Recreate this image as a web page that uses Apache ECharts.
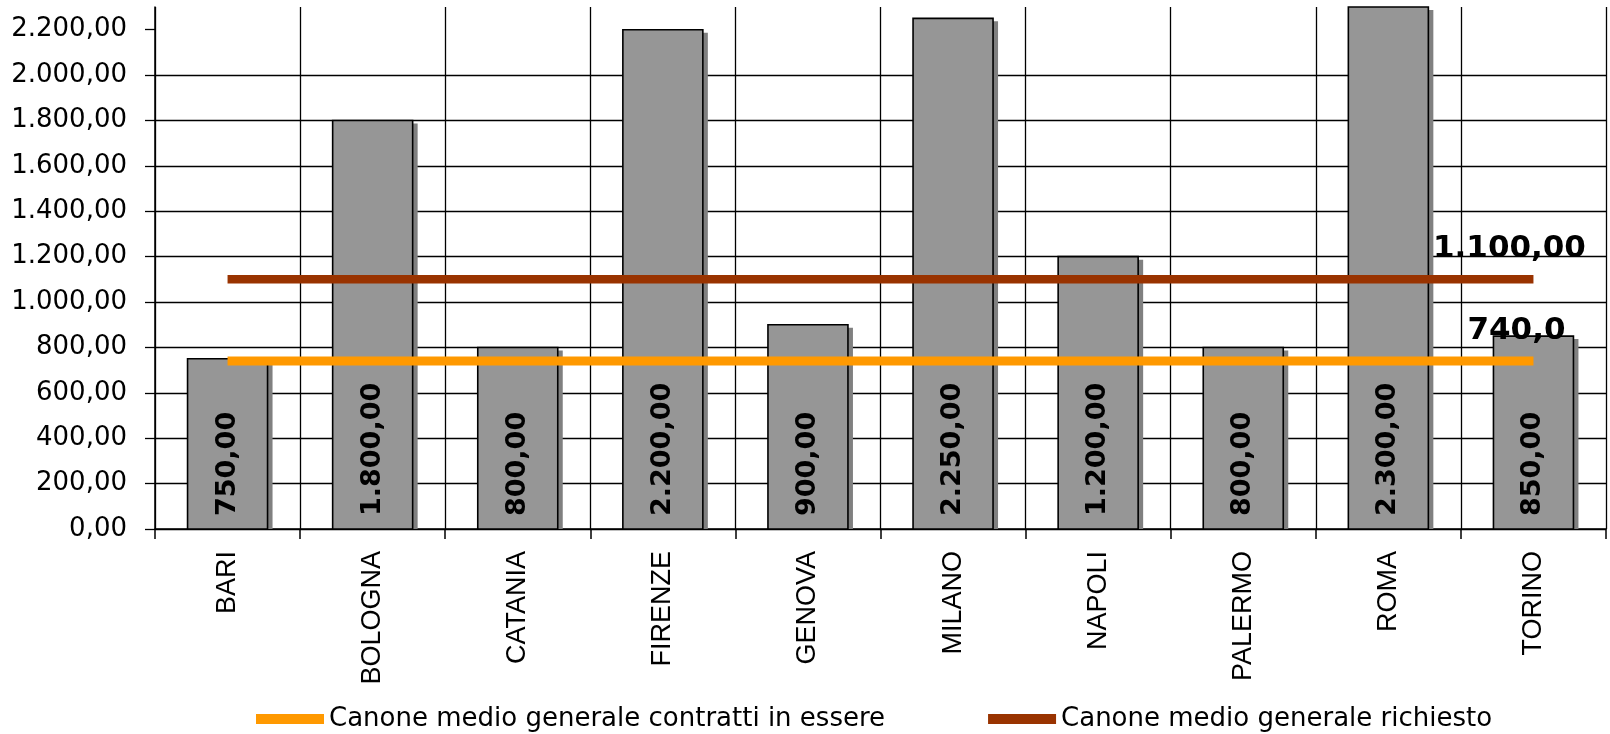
<!DOCTYPE html>
<html>
<head>
<meta charset="utf-8">
<title>Canone medio per città</title>
<script src="https://cdn.jsdelivr.net/npm/echarts@6/dist/echarts.min.js"></script>
<style>
  html, body { margin: 0; padding: 0; background: #ffffff; }
  #chart { width: 1610px; height: 734px; }
</style>
</head>
<body>
<div id="chart"></div>
<script>
// Città e canone medio per città
const categories = ['BARI', 'BOLOGNA', 'CATANIA', 'FIRENZE', 'GENOVA', 'MILANO', 'NAPOLI', 'PALERMO', 'ROMA', 'TORINO'];
const canoneCitta = [750, 1800, 800, 2200, 900, 2250, 1200, 800, 2300, 850];

// Medie generali (linee orizzontali)
const nomeInEssere = 'Canone medio generale contratti in essere';
const nomeRichiesto = 'Canone medio generale richiesto';
const canoneInEssere = [740, 740, 740, 740, 740, 740, 740, 740, 740, 740];
const canoneRichiesto = [1100, 1100, 1100, 1100, 1100, 1100, 1100, 1100, 1100, 1100];

// Tacche dell'asse verticale
const yTicks = [0, 200, 400, 600, 800, 1000, 1200, 1400, 1600, 1800, 2000, 2200];
const yMax = 2300;

// Numero in formato italiano: 1.234,56
function fmtIt(v, dec) {
  const parts = Number(v).toFixed(dec).split('.');
  parts[0] = parts[0].replace(/\B(?=(\d{3})+(?!\d))/g, '.');
  return parts.length > 1 ? parts[0] + ',' + parts[1] : parts[0];
}

const BAR_W = 80;
const SHADOW_DX = 5;
const SHADOW_DY = 3;

// Barra grigia con ombra e valore ruotato all'interno
function renderBar(params, api) {
  const idx = api.value(0);
  const val = api.value(1);
  const top = api.coord([idx, val]);
  const base = api.coord([idx, 0]);
  const h = base[1] - top[1];
  const x = top[0] - BAR_W / 2;
  return {
    type: 'group',
    children: [
      {
        type: 'rect',
        shape: { x: x + SHADOW_DX, y: top[1] + SHADOW_DY, width: BAR_W, height: Math.max(0, h - SHADOW_DY) },
        style: { fill: '#808080' }
      },
      {
        type: 'rect',
        shape: { x: x, y: top[1], width: BAR_W, height: h },
        style: { fill: '#969696', stroke: '#000000', lineWidth: 1.6 }
      },
      {
        type: 'text',
        x: top[0],
        y: base[1] - 13,
        rotation: Math.PI / 2,
        style: {
          text: fmtIt(val, 2),
          font: 'bold 27px "DejaVu Sans"',
          fill: '#000000',
          align: 'left',
          verticalAlign: 'middle'
        }
      }
    ]
  };
}

// Serie a linea con etichetta solo sull'ultimo punto
function lineData(values, labelOpt) {
  return values.map(function (v, i) {
    if (i === values.length - 1) {
      return { value: v, label: Object.assign({ show: true }, labelOpt) };
    }
    return v;
  });
}

const labelFont = { fontFamily: 'DejaVu Sans', fontWeight: 'bold', fontSize: 31, color: '#000000' };

const chart = echarts.init(document.getElementById('chart'), null, { renderer: 'canvas' });

chart.setOption({
  animation: false,
  backgroundColor: '#ffffff',
  grid: { left: 155, right: 4, top: 7, bottom: 205 },
  legend: {
    data: [nomeInEssere, nomeRichiesto],
    left: 251,
    top: 701,
    icon: 'rect',
    itemWidth: 68,
    itemHeight: 10,
    itemGap: 103,
    textStyle: { fontFamily: 'DejaVu Sans', fontSize: 26, color: '#000000' }
  },
  xAxis: {
    type: 'category',
    data: categories,
    boundaryGap: true,
    axisLine: { show: true, lineStyle: { color: '#000000', width: 1.5 } },
    axisTick: { show: true, alignWithLabel: false, length: 10, lineStyle: { color: '#000000', width: 1.5 } },
    splitLine: { show: true, lineStyle: { color: '#000000', width: 1.3 } },
    axisLabel: {
      interval: 0,
      rotate: 90,
      margin: 22,
      fontFamily: 'Liberation Sans',
      fontSize: 27,
      color: '#000000'
    }
  },
  yAxis: {
    type: 'value',
    min: 0,
    max: yMax,
    interval: 200,
    axisLine: { show: true, lineStyle: { color: '#000000', width: 1.5 } },
    axisTick: { show: true, length: 10, customValues: yTicks, lineStyle: { color: '#000000', width: 1.3 } },
    splitLine: { show: true, showMaxLine: false, lineStyle: { color: '#000000', width: 1.3 } },
    axisLabel: {
      customValues: yTicks,
      margin: 28,
      fontFamily: 'DejaVu Sans',
      fontSize: 26,
      color: '#000000',
      formatter: function (v) { return yTicks.indexOf(v) >= 0 ? fmtIt(v, 2) : ''; }
    }
  },
  series: [
    {
      name: 'Canone medio',
      type: 'custom',
      renderItem: renderBar,
      encode: { x: 0, y: 1 },
      data: canoneCitta.map(function (v, i) { return [i, v]; }),
      z: 2
    },
    {
      name: nomeRichiesto,
      type: 'line',
      data: lineData(canoneRichiesto, Object.assign({ position: 'top', offset: [-24, -10], formatter: function (p) { return fmtIt(p.value, 2); } }, labelFont)),
      symbol: 'circle',
      symbolSize: 0,
      showSymbol: true,
      lineStyle: { color: '#993300', width: 8.5, cap: 'butt' },
      itemStyle: { color: '#993300' },
      z: 4
    },
    {
      name: nomeInEssere,
      type: 'line',
      data: lineData(canoneInEssere, Object.assign({ position: 'top', offset: [-17, -10], formatter: function (p) { return fmtIt(p.value, 1); } }, labelFont)),
      symbol: 'circle',
      symbolSize: 0,
      showSymbol: true,
      lineStyle: { color: '#FF9900', width: 9, cap: 'butt' },
      itemStyle: { color: '#FF9900' },
      z: 4
    }
  ]
});
</script>
</body>
</html>
